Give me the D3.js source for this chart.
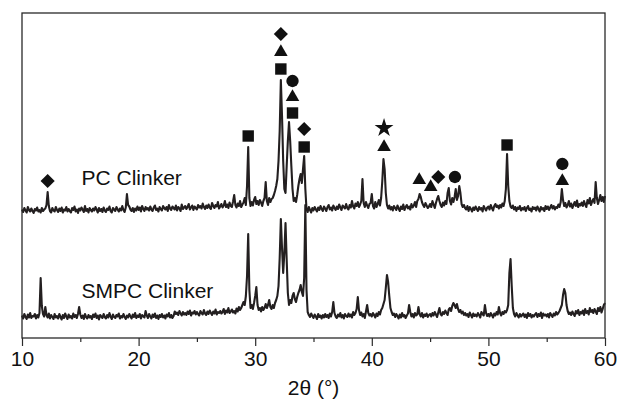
<!DOCTYPE html>
<html>
<head>
<meta charset="utf-8">
<script src="https://cdn.jsdelivr.net/npm/d3@7"></script>
<style>
  body { margin: 0; background: #fff; }
  svg { display: block; font-family: "Liberation Sans", Arial, sans-serif; }
</style>
</head>
<body>
<svg id="xrd" width="618" height="399"></svg>
<script>
// 2theta grid: 10.0 .. 60.0 in 0.1 deg steps (one row per degree)
const thetaStart = 10, thetaStep = 0.1;

// PC clinker, raw counts
const pcCounts = [
  215,190,230,205,185,240,210,195,225,200,
  180,220,205,235,195,210,185,230,200,215,
  225,260,390,250,200,185,230,205,195,240,
  210,190,225,200,235,185,215,205,240,195,
  220,200,185,230,210,245,195,215,180,225,
  205,235,215,190,250,200,220,185,230,210,
  195,225,205,240,215,185,230,200,220,190,
  235,205,190,225,210,245,200,185,230,215,
  200,240,215,195,225,205,250,210,190,235,
  370,260,245,215,200,230,190,225,205,245,
  210,235,195,250,220,200,240,215,230,205,
  245,215,200,235,255,210,225,195,240,220,
  205,250,230,215,240,200,260,225,210,245,
  230,215,255,205,240,225,200,265,220,235,
  250,220,240,270,215,235,255,210,245,230,
  215,260,235,250,225,275,240,220,255,230,
  265,235,220,280,250,230,260,245,290,225,
  245,270,235,255,300,240,265,230,285,250,
  240,295,360,260,235,275,250,300,240,265,
  285,330,260,450,840,330,250,290,255,310,
  340,270,300,260,310,285,250,300,330,490,
  300,260,330,290,320,330,360,400,450,520,
  700,1000,1510,1150,700,420,380,650,900,1090,
  900,650,420,300,330,290,360,450,520,570,
  480,620,750,420,220,190,240,210,185,230,
  205,240,215,195,235,210,250,220,200,245,
  225,200,240,260,215,235,205,255,230,210,
  245,220,265,235,210,255,240,225,270,230,
  215,260,235,300,245,225,275,250,290,240,
  265,300,520,280,240,290,255,230,270,280,
  370,250,225,290,240,270,310,255,330,500,
  720,620,380,260,225,255,215,240,205,250,
  230,210,255,225,200,245,220,265,210,240,
  260,225,245,215,270,235,255,290,240,300,
  320,370,340,290,260,240,280,255,230,245,
  270,240,300,265,230,280,320,350,300,260,
  240,285,255,300,270,380,430,300,265,330,
  290,340,420,310,350,450,380,270,240,260,
  230,215,250,200,240,220,195,235,210,245,
  220,200,240,215,230,195,250,225,205,235,
  245,215,260,230,205,250,270,240,255,225,
  260,235,275,250,300,420,770,450,300,245,
  230,255,215,240,200,235,220,250,205,230,
  215,240,200,230,250,210,225,195,240,220,
  235,205,245,220,195,240,215,230,200,250,
  220,245,210,235,260,225,250,215,240,230,
  265,240,290,420,310,250,280,235,260,300,
  245,275,230,260,290,250,305,240,270,255,
  285,250,300,265,240,310,275,330,260,295,
  320,280,490,330,270,310,360,300,340,290,
  350
];

// SMPC clinker, raw counts
const smpcCounts = [
  225,195,240,210,190,235,205,250,200,220,
  215,240,195,230,205,250,600,320,240,215,
  310,230,205,245,195,230,210,190,240,205,
  220,195,240,210,185,230,200,245,215,190,
  235,205,220,195,245,210,230,200,240,310,
  235,200,225,190,240,210,195,230,205,220,
  190,235,210,245,200,225,185,230,215,200,
  240,210,195,230,205,250,215,190,235,210,
  200,230,215,245,195,220,205,240,210,190,
  225,205,240,215,195,235,210,250,200,225,
  210,240,195,230,215,205,270,225,200,240,
  215,195,235,210,245,200,225,190,230,210,
  240,205,225,195,235,215,250,205,230,200,
  220,265,240,255,230,270,245,225,260,235,
  250,230,265,240,275,225,255,245,270,235,
  260,240,225,270,250,235,280,245,230,265,
  240,275,250,230,265,245,285,235,260,250,
  270,245,260,290,240,275,255,300,250,265,
  285,255,270,245,295,265,310,280,300,330,
  360,330,420,620,1040,480,300,330,290,350,
  420,510,330,280,300,265,310,280,300,340,
  300,330,380,310,290,330,300,350,380,420,
  520,800,1190,900,650,850,1150,780,450,330,
  380,350,420,450,390,360,410,450,480,530,
  460,420,600,1330,480,260,230,210,245,220,
  200,235,215,190,240,210,225,195,230,205,
  240,210,230,200,245,215,260,360,250,215,
  200,235,215,250,205,230,195,240,220,210,
  245,215,235,205,260,230,250,290,410,280,
  230,255,215,240,200,265,330,250,225,240,
  215,250,230,205,245,220,260,235,280,300,
  340,380,500,630,560,420,300,260,230,245,
  210,240,220,195,235,205,250,215,230,200,
  225,245,330,260,215,240,205,250,225,235,
  310,240,215,250,205,235,220,245,210,230,
  240,215,250,225,260,235,210,255,300,240,
  225,260,240,275,250,230,285,300,270,320,
  350,330,300,340,290,260,280,245,265,230,
  250,225,240,210,255,230,205,245,220,235,
  215,250,230,205,260,240,225,330,250,220,
  240,215,250,230,205,245,225,260,235,310,
  250,225,260,240,270,255,280,330,650,790,
  520,300,240,215,250,225,205,240,215,230,
  245,210,235,200,250,220,240,205,230,215,
  235,250,210,240,220,255,200,245,225,235,
  215,240,205,250,230,210,245,225,260,235,
  250,270,300,330,430,490,450,330,270,240,
  255,230,265,240,220,270,245,280,230,260,
  245,275,230,290,250,270,235,300,260,280,
  250,290,265,240,300,270,310,255,290,330,
  350
];

const pcOffset = 1070;   // vertical stacking of the PC pattern
const smpcOffset = 0;

// phase markers above the PC pattern: 2theta, raw counts, symbol
const markerTheta = [12.2, 29.4, 32.2, 32.2, 32.2, 33.2, 33.2, 33.2, 34.2, 34.2, 41.05, 41.05, 44.07, 45.05, 45.7, 47.13, 51.6, 56.34, 56.34];
const markerLevel = [500, 950, 1970, 1790, 1620, 1500, 1340, 1180, 1020, 840, 1030, 840, 510, 440, 540, 540, 860, 670, 500];
const markerShape = ["diamond", "square", "diamond", "triangle", "square", "circle", "triangle", "square", "diamond", "square", "star", "triangle", "triangle", "triangle", "diamond", "circle", "square", "circle", "triangle"];

const xTicks = [10, 20, 30, 40, 50, 60];
const xMinorTicks = [15, 25, 35, 45, 55];

const svg = d3.select("#xrd");
const plotLeft = 22, plotRight = 605, plotTop = 13, plotBottom = 338;
const ink = "#231f20";

const x = d3.scaleLinear().domain([10, 60]).range([plotLeft, plotRight]);
const y = d3.scaleLinear().domain([0, 3250]).range([plotBottom, plotTop]);

const toPoints = (counts, offset) => counts.map((c, i) => [thetaStart + i * thetaStep, c + offset]);

const line = d3.line()
  .x(d => x(d[0]))
  .y(d => y(d[1]));

// patterns
[[pcCounts, pcOffset], [smpcCounts, smpcOffset]].forEach(([counts, off]) => {
  svg.append("path")
    .datum(toPoints(counts, off))
    .attr("d", line)
    .attr("fill", "none")
    .attr("stroke", ink)
    .attr("stroke-width", 2.1)
    .attr("stroke-linejoin", "round");
});

// markers
const symbols = {
  square: d3.symbol().type(d3.symbolSquare).size(130),
  diamond: d3.symbol().type(d3.symbolSquare).size(100),
  triangle: d3.symbol().type(d3.symbolTriangle).size(80),
  circle: d3.symbol().type(d3.symbolCircle).size(120),
  star: d3.symbol().type(d3.symbolStar).size(110)
};
svg.append("g").selectAll("path")
  .data(markerTheta.map((t, i) => ({ t: t, v: markerLevel[i] + pcOffset, s: markerShape[i] })))
  .enter()
  .append("path")
  .attr("d", d => symbols[d.s]())
  .attr("transform", d => "translate(" + x(d.t) + "," + y(d.v) + ")" + (d.s === "diamond" ? " rotate(45)" : ""))
  .attr("fill", "#111");

// frame
svg.append("rect")
  .attr("x", plotLeft).attr("y", plotTop)
  .attr("width", plotRight - plotLeft).attr("height", plotBottom - plotTop)
  .attr("fill", "none")
  .attr("stroke", "#2a2a2a")
  .attr("stroke-width", 1.3);

// x axis, major + minor ticks
const xaxis = svg.append("g")
  .attr("transform", "translate(0," + plotBottom + ")")
  .call(d3.axisBottom(x).tickValues(xTicks).tickSize(8).tickSizeOuter(0).tickPadding(5).tickFormat(d3.format("d")));
xaxis.select(".domain").remove();
xaxis.selectAll("line").attr("stroke", "#2a2a2a").attr("stroke-width", 1.2);
xaxis.selectAll("text")
  .attr("fill", "#111")
  .style("font-size", "21px")
  .style("font-family", "'Liberation Sans', Arial, sans-serif");

const xminor = svg.append("g")
  .attr("transform", "translate(0," + plotBottom + ")")
  .call(d3.axisBottom(x).tickValues(xMinorTicks).tickSize(4).tickSizeOuter(0).tickFormat(""));
xminor.select(".domain").remove();
xminor.selectAll("line").attr("stroke", "#2a2a2a").attr("stroke-width", 1.2);

// axis title
svg.append("text")
  .attr("text-anchor", "middle")
  .attr("x", (plotLeft + plotRight) / 2)
  .attr("y", 395)
  .style("font-size", "21px")
  .attr("fill", "#111")
  .text("2θ (°)");

// sample labels
svg.append("text")
  .attr("x", x(15.1))
  .attr("y", 185)
  .style("font-size", "21px")
  .attr("fill", "#111")
  .text("PC Clinker");

svg.append("text")
  .attr("x", x(15.1))
  .attr("y", 298)
  .style("font-size", "21px")
  .attr("fill", "#111")
  .text("SMPC Clinker");
</script>
</body>
</html>
